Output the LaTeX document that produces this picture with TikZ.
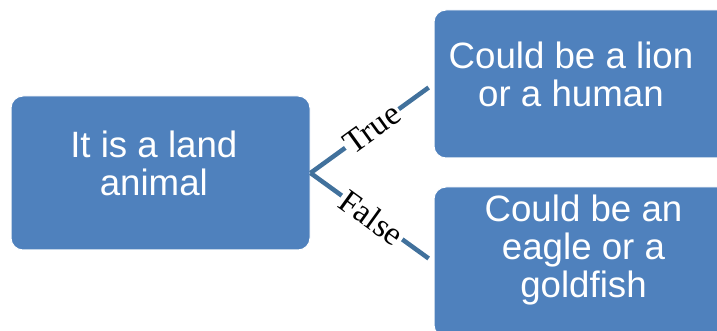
\documentclass[tikz,border=0pt]{standalone}
\usepackage{fontspec}
\newfontfamily\boxFont{Liberation Sans}
\newfontfamily\labelFont{Liberation Serif}
\usepackage{xcolor}
\definecolor{boxBlue}{HTML}{4F81BD}
\definecolor{lineBlue}{HTML}{41719C}
\usetikzlibrary{positioning}
\tikzset{
  animalBox/.style={
    rectangle,
    rounded corners=9pt,
    draw=white,
    line width=0.75pt,
    fill=boxBlue,
    minimum width=224.25pt
 },
  boxText/.style={
    text=white,
    font=\boxFont\fontsize{27.5}{28.5}\selectfont,
    align=center,
    inner sep=0pt,
    anchor=north
 },
  branchLine/.style={
    line width=3.4pt,
    color=lineBlue,
    shorten >=4.5pt
 },
  branchLabel/.style={
    midway,
    sloped,
    fill=white,
    inner sep=1.5pt,
    text=black,
    font=\labelFont\fontsize{25}{28}\selectfont
 }
}

\begin{document}
\begin{tikzpicture}[x=0.75pt, y=-0.75pt]
            \useasboundingbox (0,0) rectangle (717,331);
            % land animal box
            \node[animalBox, minimum height=115.5pt] (land) at (160.5,173) {};
            \node[boxText, below=26pt of land.north, xshift=-5pt] (landText) {It is a land\\animal};
            % lion box
            \node[animalBox, minimum height=111pt] (lion) at (583.5,84) {};
            \node[boxText, below=23.8pt of lion.north, xshift=-9.4pt] (lionText) {Could be a lion\\or a human};
            % eagle box
            \node[animalBox, minimum height=112.5pt] (eagle) at (583.5,262) {};
            \node[boxText, below=5.8pt of eagle.north] (eagleText) {Could be an\\eagle or a\\goldfish};

            \draw[branchLine] (land.east) -- node[branchLabel]{True} (lion.west);
            \draw[branchLine] (land.east) -- node[branchLabel]{False} (eagle.west);
        \end{tikzpicture}
\end{document}
